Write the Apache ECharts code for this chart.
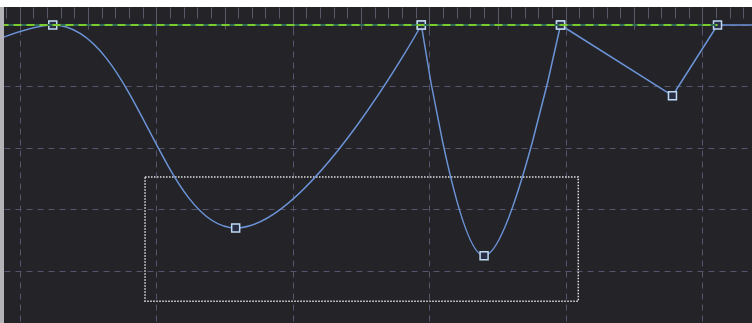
<!DOCTYPE html>
<html>
<head>
<meta charset="utf-8">
<script src="https://cdn.jsdelivr.net/npm/echarts@6/dist/echarts.min.js"></script>
<style>
html,body{margin:0;padding:0;background:#ffffff;width:752px;height:323px;overflow:hidden;}
#edge{position:absolute;left:0;top:7px;width:4px;height:316px;background:#b4b4b8;}
#chart{position:absolute;left:4px;top:7px;width:748px;height:316px;background:#232328;}
</style>
</head>
<body>
<div id="edge"></div>
<div id="chart"></div>
<script>
// x positions (arbitrary units) and y values of the line's points
var xValues = [-4, 2.4, 15.8, 29.4, 34.0, 39.6, 47.8, 51.1, 62];
var yValues = [91, 100, 34, 100, 25, 100, 77, 100, 100];
// the curve is drawn in pieces: [first index, last index, smoothness]
var pieces = [[0, 3, 0.4], [3, 5, 0.4], [5, 8, 0]];
// reference level line (start x, end x, level)
var refLine = [-10, 51.1, 100];
// highlighted rectangle [x0, y0, x1, y1]
var boxArea = [9.16, 50.6, 40.9, 10.2];
// axis ranges
var xRange = [-10, 60];
var yRange = [0, 120];

var chart = echarts.init(document.getElementById('chart'), null, {renderer: 'canvas'});
var pts = xValues.map(function (x, i) { return [x, yValues[i]]; });

var series = pieces.map(function (p) {
  return {
    type: 'line',
    xAxisIndex: 0,
    data: pts.slice(p[0], p[1] + 1),
    smooth: p[2] > 0 ? p[2] : false,
    symbol: 'rect',
    symbolSize: 8,
    showAllSymbol: true,
    lineStyle: {color: '#6b93d6', width: 1.5},
    itemStyle: {color: '#2a2e44', borderColor: '#c0d9f2', borderWidth: 1.5}
  };
});
series[0].markLine = {
  silent: true,
  symbol: ['none', 'none'],
  label: {show: false},
  data: [
    [{coord: [refLine[0], refLine[2]], lineStyle: {color: '#2f6a58', width: 2, type: 'solid'}},
     {coord: [refLine[1], refLine[2]]}],
    [{coord: [refLine[0], refLine[2]], lineStyle: {color: '#7ccb2c', width: 2, type: [8, 5]}},
     {coord: [refLine[1], refLine[2]]}]
  ]
};
series[0].markArea = {
  silent: true,
  label: {show: false},
  itemStyle: {color: 'rgba(0,0,0,0)', borderColor: '#e2e2e2', borderWidth: 1.5, borderType: [1.5, 1.5]},
  data: [[{coord: [boxArea[0], boxArea[1]]}, {coord: [boxArea[2], boxArea[3]]}]]
};

var option = {
  backgroundColor: 'transparent',
  animation: false,
  grid: {left: -120.5, right: -87, top: -43.5, bottom: -9.5, containLabel: false, outerBoundsMode: 'none'},
  xAxis: [
    {
      type: 'value', min: xRange[0], max: xRange[1], interval: 10, position: 'bottom',
      axisLine: {show: false}, axisTick: {show: false}, axisLabel: {show: false},
      splitLine: {show: true, lineStyle: {color: '#55556e', type: [6, 5], width: 1}}
    },
    {
      type: 'value', min: xRange[0], max: xRange[1], interval: 5, position: 'top', offset: -44,
      axisLine: {show: false}, axisLabel: {show: false},
      axisTick: {show: true, inside: true, length: 22, lineStyle: {color: '#585868', width: 1}},
      minorTick: {show: true, splitNumber: 5, length: 11, lineStyle: {color: '#585868', width: 1}},
      splitLine: {show: false}
    }
  ],
  yAxis: {
    type: 'value', min: yRange[0], max: yRange[1], interval: 20,
    axisLine: {show: false}, axisTick: {show: false}, axisLabel: {show: false},
    splitLine: {show: true, lineStyle: {color: '#55556e', type: [6, 5], width: 1}}
  },
  series: series
};
chart.setOption(option);
</script>
</body>
</html>
